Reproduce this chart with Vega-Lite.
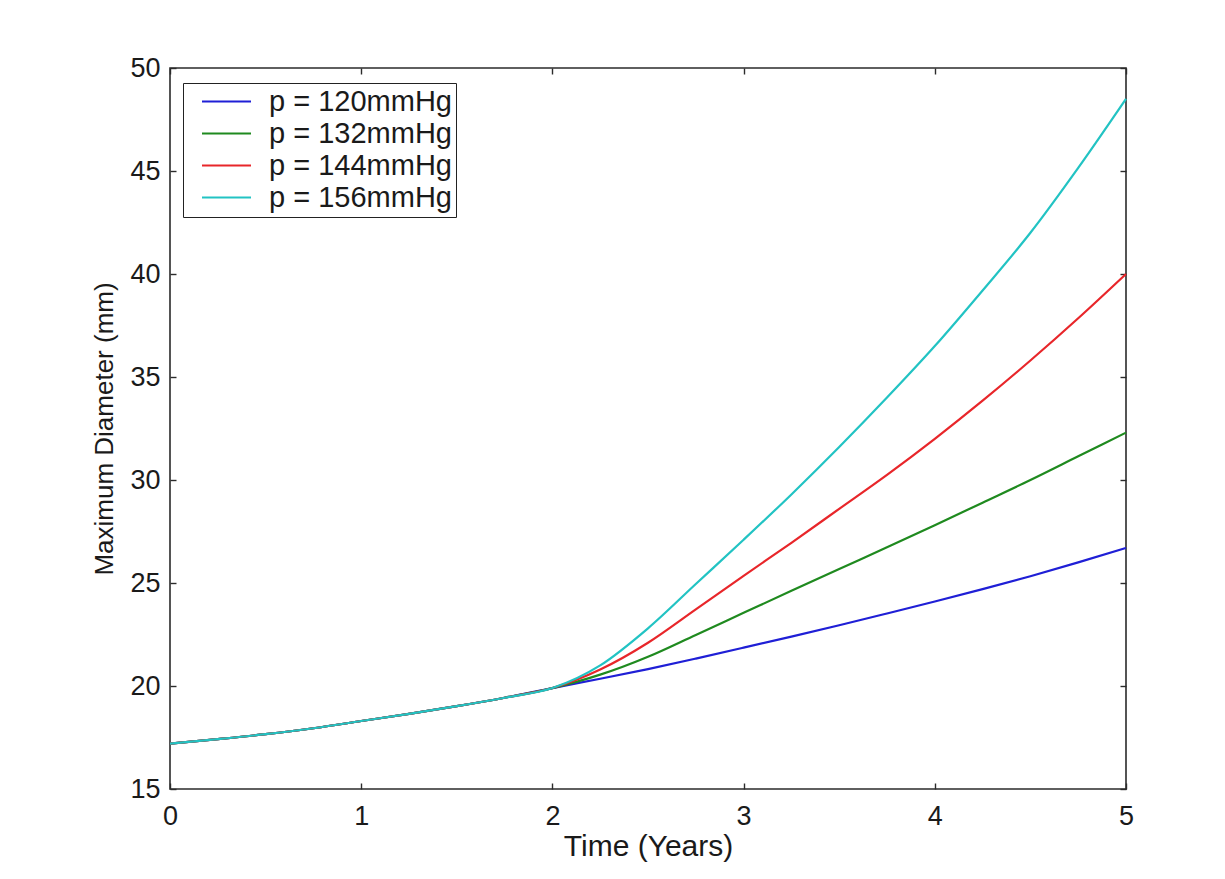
{
  "$schema": "https://vega.github.io/schema/vega-lite/v6.json",
  "width": 956,
  "height": 721,
  "autosize": "none",
  "padding": {"left": 170, "top": 68, "right": 99, "bottom": 90},
  "background": "white",
  "config": {
    "font": "Liberation Sans",
    "view": {"stroke": "#2b2b2b", "strokeWidth": 1.6},
    "axis": {
      "grid": false,
      "domain": false,
      "tickColor": "#2b2b2b",
      "tickWidth": 1.4,
      "tickSize": -6,
      "labelColor": "#1a1a1a",
      "titleColor": "#1a1a1a",
      "labelFont": "Liberation Sans",
      "titleFont": "Liberation Sans",
      "labelFontSize": 27,
      "titleFontSize": 27,
      "labelFlush": false,
      "titleFontWeight": "normal"
    }
  },
  "data": {
    "values": [
      {"p": "p = 120mmHg", "t": 0, "d": 17.2}, {"p": "p = 120mmHg", "t": 0.25, "d": 17.42}, {"p": "p = 120mmHg", "t": 0.5, "d": 17.66}, {"p": "p = 120mmHg", "t": 0.75, "d": 17.95}, {"p": "p = 120mmHg", "t": 1, "d": 18.3}, {"p": "p = 120mmHg", "t": 1.25, "d": 18.65}, {"p": "p = 120mmHg", "t": 1.5, "d": 19.02}, {"p": "p = 120mmHg", "t": 1.75, "d": 19.43}, {"p": "p = 120mmHg", "t": 2, "d": 19.9},
      {"p": "p = 120mmHg", "t": 2.25, "d": 20.35}, {"p": "p = 120mmHg", "t": 2.5, "d": 20.82}, {"p": "p = 120mmHg", "t": 2.75, "d": 21.33}, {"p": "p = 120mmHg", "t": 3, "d": 21.86}, {"p": "p = 120mmHg", "t": 3.25, "d": 22.4}, {"p": "p = 120mmHg", "t": 3.5, "d": 22.95}, {"p": "p = 120mmHg", "t": 3.75, "d": 23.52}, {"p": "p = 120mmHg", "t": 4, "d": 24.1}, {"p": "p = 120mmHg", "t": 4.25, "d": 24.7}, {"p": "p = 120mmHg", "t": 4.5, "d": 25.33}, {"p": "p = 120mmHg", "t": 4.75, "d": 26.0}, {"p": "p = 120mmHg", "t": 5, "d": 26.7},

      {"p": "p = 132mmHg", "t": 0, "d": 17.2}, {"p": "p = 132mmHg", "t": 0.25, "d": 17.42}, {"p": "p = 132mmHg", "t": 0.5, "d": 17.66}, {"p": "p = 132mmHg", "t": 0.75, "d": 17.95}, {"p": "p = 132mmHg", "t": 1, "d": 18.3}, {"p": "p = 132mmHg", "t": 1.25, "d": 18.65}, {"p": "p = 132mmHg", "t": 1.5, "d": 19.02}, {"p": "p = 132mmHg", "t": 1.75, "d": 19.43}, {"p": "p = 132mmHg", "t": 2, "d": 19.9},
      {"p": "p = 132mmHg", "t": 2.25, "d": 20.55}, {"p": "p = 132mmHg", "t": 2.5, "d": 21.42}, {"p": "p = 132mmHg", "t": 2.75, "d": 22.48}, {"p": "p = 132mmHg", "t": 3, "d": 23.55}, {"p": "p = 132mmHg", "t": 3.25, "d": 24.62}, {"p": "p = 132mmHg", "t": 3.5, "d": 25.68}, {"p": "p = 132mmHg", "t": 3.75, "d": 26.73}, {"p": "p = 132mmHg", "t": 4, "d": 27.8}, {"p": "p = 132mmHg", "t": 4.25, "d": 28.9}, {"p": "p = 132mmHg", "t": 4.5, "d": 30.0}, {"p": "p = 132mmHg", "t": 4.75, "d": 31.15}, {"p": "p = 132mmHg", "t": 5, "d": 32.3},

      {"p": "p = 144mmHg", "t": 0, "d": 17.2}, {"p": "p = 144mmHg", "t": 0.25, "d": 17.42}, {"p": "p = 144mmHg", "t": 0.5, "d": 17.66}, {"p": "p = 144mmHg", "t": 0.75, "d": 17.95}, {"p": "p = 144mmHg", "t": 1, "d": 18.3}, {"p": "p = 144mmHg", "t": 1.25, "d": 18.65}, {"p": "p = 144mmHg", "t": 1.5, "d": 19.02}, {"p": "p = 144mmHg", "t": 1.75, "d": 19.43}, {"p": "p = 144mmHg", "t": 2, "d": 19.9},
      {"p": "p = 144mmHg", "t": 2.25, "d": 20.8}, {"p": "p = 144mmHg", "t": 2.5, "d": 22.1}, {"p": "p = 144mmHg", "t": 2.75, "d": 23.72}, {"p": "p = 144mmHg", "t": 3, "d": 25.35}, {"p": "p = 144mmHg", "t": 3.25, "d": 26.95}, {"p": "p = 144mmHg", "t": 3.5, "d": 28.6}, {"p": "p = 144mmHg", "t": 3.75, "d": 30.25}, {"p": "p = 144mmHg", "t": 4, "d": 32.0}, {"p": "p = 144mmHg", "t": 4.25, "d": 33.85}, {"p": "p = 144mmHg", "t": 4.5, "d": 35.8}, {"p": "p = 144mmHg", "t": 4.75, "d": 37.85}, {"p": "p = 144mmHg", "t": 5, "d": 40.0},

      {"p": "p = 156mmHg", "t": 0, "d": 17.2}, {"p": "p = 156mmHg", "t": 0.25, "d": 17.42}, {"p": "p = 156mmHg", "t": 0.5, "d": 17.66}, {"p": "p = 156mmHg", "t": 0.75, "d": 17.95}, {"p": "p = 156mmHg", "t": 1, "d": 18.3}, {"p": "p = 156mmHg", "t": 1.25, "d": 18.65}, {"p": "p = 156mmHg", "t": 1.5, "d": 19.02}, {"p": "p = 156mmHg", "t": 1.75, "d": 19.43}, {"p": "p = 156mmHg", "t": 2, "d": 19.9},
      {"p": "p = 156mmHg", "t": 2.25, "d": 21.0}, {"p": "p = 156mmHg", "t": 2.5, "d": 22.8}, {"p": "p = 156mmHg", "t": 2.75, "d": 24.95}, {"p": "p = 156mmHg", "t": 3, "d": 27.1}, {"p": "p = 156mmHg", "t": 3.25, "d": 29.3}, {"p": "p = 156mmHg", "t": 3.5, "d": 31.6}, {"p": "p = 156mmHg", "t": 3.75, "d": 34.0}, {"p": "p = 156mmHg", "t": 4, "d": 36.5}, {"p": "p = 156mmHg", "t": 4.25, "d": 39.2}, {"p": "p = 156mmHg", "t": 4.5, "d": 42.0}, {"p": "p = 156mmHg", "t": 4.75, "d": 45.15}, {"p": "p = 156mmHg", "t": 5, "d": 48.5}
    ]
  },
  "layer": [
    {
      "mark": {"type": "line", "strokeWidth": 2.2, "interpolate": "monotone"},
      "encoding": {
        "x": {
          "field": "t", "type": "quantitative",
          "scale": {"domain": [0, 5], "nice": false, "zero": false},
          "axis": {"orient": "bottom", "values": [0, 1, 2, 3, 4, 5], "title": "Time (Years)", "labelPadding": 20, "titlePadding": 2, "titleFontSize": 30}
        },
        "y": {
          "field": "d", "type": "quantitative",
          "scale": {"domain": [15, 50], "nice": false, "zero": false},
          "axis": {"orient": "left", "values": [15, 20, 25, 30, 35, 40, 45, 50], "title": "Maximum Diameter (mm)", "labelPadding": 16, "titlePadding": 12, "titleFontSize": 26}
        },
        "color": {
          "field": "p", "type": "nominal",
          "scale": {
            "domain": ["p = 120mmHg", "p = 132mmHg", "p = 144mmHg", "p = 156mmHg"],
            "range": ["#1f1fd6", "#1f8a1f", "#e8262a", "#22c3c3"]
          },
          "legend": {
            "orient": "none", "legendX": 13, "legendY": 15, "title": null,
            "symbolType": "M-2,0H2", "symbolSize": 600, "symbolStrokeWidth": 2,
            "labelFontSize": 29, "labelColor": "#1a1a1a", "labelOffset": 28, "labelLimit": 500,
            "rowPadding": 2, "padding": 4, "symbolOffset": 25,
            "fillColor": "white", "strokeColor": "#222222"
          }
        }
      }
    },
    {
      "mark": {"type": "line", "opacity": 0},
      "encoding": {
        "x": {"field": "t", "type": "quantitative", "axis": {"orient": "top", "values": [0, 1, 2, 3, 4, 5], "labels": false, "title": null}},
        "y": {"field": "d", "type": "quantitative", "axis": {"orient": "right", "values": [15, 20, 25, 30, 35, 40, 45, 50], "labels": false, "title": null}},
        "detail": {"field": "p"}
      }
    }
  ],
  "resolve": {"axis": {"x": "independent", "y": "independent"}}
}
